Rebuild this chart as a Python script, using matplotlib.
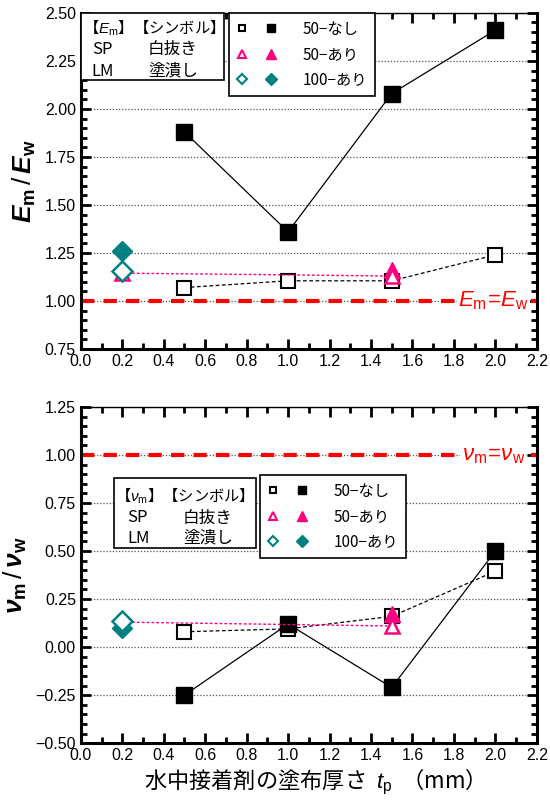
import matplotlib
matplotlib.use("Agg")
import matplotlib.pyplot as plt
from matplotlib.lines import Line2D
from matplotlib.patches import Rectangle
from matplotlib.legend_handler import HandlerTuple
from matplotlib.ticker import MultipleLocator

plt.rcParams['font.family'] = ['Liberation Sans', 'Noto Sans CJK JP', 'DejaVu Sans']
plt.rcParams['mathtext.fontset'] = 'custom'
plt.rcParams['mathtext.rm'] = 'Liberation Sans'
plt.rcParams['mathtext.it'] = 'Liberation Sans:italic'
plt.rcParams['mathtext.bf'] = 'Liberation Sans:bold'
plt.rcParams['mathtext.bfit'] = 'Liberation Sans:italic:bold'
plt.rcParams['axes.unicode_minus'] = True

PINK = '#ff0080'
TEAL = '#008080'
JP = ['Noto Sans CJK JP', 'DejaVu Sans']

# --- data: Em/Ew ---
e_sq_x = [0.5, 1.0, 1.5, 2.0]
e_sp50 = [1.07, 1.105, 1.105, 1.24]
e_lm50 = [1.88, 1.36, 2.08, 2.41]
e_tri_sp_x = [0.2, 1.5]
e_sp50a = [1.145, 1.13]
e_tri_lm_x = [1.5]
e_lm50a = [1.16]
e_dia_x = [0.2]
e_sp100a = [1.155]
e_lm100a = [1.26]

# --- data: nu_m/nu_w ---
n_sp50 = [0.08, 0.095, 0.16, 0.395]
n_lm50 = [-0.25, 0.12, -0.21, 0.50]
n_sp50a = [0.13, 0.11]
n_lm50a = [0.17]
n_sp100a = [0.135]
n_lm100a = [0.10]

xticks = [0.0, 0.2, 0.4, 0.6, 0.8, 1.0, 1.2, 1.4, 1.6, 1.8, 2.0, 2.2]
legend_labels = ['50−なし', '50−あり', '100−あり']

fig = plt.figure(figsize=(5.5, 8.06), dpi=100)
ax1 = fig.add_axes([0.147, 0.567, 0.829, 0.417])
ax2 = fig.add_axes([0.147, 0.078, 0.829, 0.417])


def style_axes(ax, ylim, yfmt):
    ax.set_xlim(0, 2.2)
    ax.set_ylim(*ylim)
    ax.set_xticks(xticks)
    ax.set_xticklabels([f'{v:.1f}' for v in xticks])
    ax.xaxis.set_minor_locator(MultipleLocator(0.1))
    ax.yaxis.set_major_locator(MultipleLocator(0.25))
    ax.yaxis.set_minor_locator(MultipleLocator(0.05))
    ax.yaxis.set_major_formatter(yfmt)
    ax.tick_params(which='both', direction='in', top=True, right=True,
                   width=2, labelsize=11.5)
    ax.tick_params(which='major', length=7)
    ax.tick_params(which='minor', length=4)
    for s in ['left', 'bottom', 'right']:
        ax.spines[s].set_linewidth(2.2)
    ax.spines['top'].set_linewidth(1)
    ax.grid(axis='y', which='major', color='#555555', linestyle=(0, (1, 1.5)), linewidth=0.9)
    ax.set_axisbelow(True)


def draw(ax, sp50, lm50, sp50a, lm50a, sp100a, lm100a):
    ax.plot(e_sq_x, sp50, color='black', lw=0.9, dashes=(3, 2), marker='s', ms=10,
            mfc='white', mec='black', mew=1.5, zorder=3)
    ax.plot(e_sq_x, lm50, color='black', lw=0.9, marker='s', ms=11,
            mfc='black', mec='black', zorder=3)
    ax.plot(e_tri_lm_x, lm50a, ls='none', marker='^', ms=11, mfc=PINK, mec=PINK, zorder=4)
    ax.plot(e_tri_sp_x, sp50a, color=PINK, lw=1.0, dashes=(2, 1.5), marker='^', ms=10,
            mfc='white', mec=PINK, mew=1.8, zorder=4)
    ax.plot(e_dia_x, lm100a, ls='none', marker='D', ms=10, mfc=TEAL, mec=TEAL, zorder=5)
    ax.plot(e_dia_x, sp100a, ls='none', marker='D', ms=10, mfc='white', mec=TEAL,
            mew=1.8, zorder=5)


style_axes(ax1, (0.75, 2.5), lambda v, p: f'{v:.2f}')
style_axes(ax2, (-0.5, 1.25), lambda v, p: f'{v:.2f}'.replace('-', '\u2212'))

draw(ax1, e_sp50, e_lm50, e_sp50a, e_lm50a, e_sp100a, e_lm100a)
draw(ax2, n_sp50, n_lm50, n_sp50a, n_lm50a, n_sp100a, n_lm100a)

for ax, lab in [(ax1, r'$E_\mathrm{m}\!=\!E_\mathrm{w}$'),
                (ax2, r'$\nu_\mathrm{m}\!=\!\nu_\mathrm{w}$')]:
    ax.axhline(1.0, color='red', lw=3, dashes=(3.2, 2.2), zorder=2)
    ax.text(1.99, 1.0, lab, color='red', fontsize=16, ha='center', va='center',
            zorder=6, bbox=dict(facecolor='white', edgecolor='none', pad=1))

ax1.set_ylabel(r'$\mathbfit{E}_\mathbf{m}\,/\,\mathbfit{E}_\mathbf{w}$', fontsize=19, labelpad=5)
ax2.set_ylabel(r'$\mathbfit{\nu}_\mathbf{m}\,/\,\mathbfit{\nu}_\mathbf{w}$', fontsize=19, labelpad=5)
ax2.set_xlabel(r'水中接着剤の塗布厚さ  $t_\mathrm{p}$  （mm）', fontsize=16, labelpad=3,
               family=JP)


def legends(ax, sym, box, x_br, x_sp, x_col, ys, x_right, y_top):
    # box: (x0, y0, x1, y1) in axes fraction
    ax.add_patch(Rectangle((box[0], box[1]), box[2] - box[0], box[3] - box[1],
                           transform=ax.transAxes, facecolor='white',
                           edgecolor='black', lw=1.2, zorder=9, clip_on=False))
    kw = dict(transform=ax.transAxes, fontsize=12, va='center', ha='left',
              zorder=10, family=JP)
    ax.text(x_br, ys[0], f'【{sym}】【シンボル】', **{**kw, 'fontsize': 11})
    ax.text(x_sp, ys[1], 'SP', **kw)
    ax.text(x_col, ys[1], '白抜き', **kw)
    ax.text(x_sp, ys[2], 'LM', **kw)
    ax.text(x_col, ys[2], '塗潰し', **kw)
    h = [
        (Line2D([], [], ls='none', marker='s', ms=5, mfc='white', mec='black', mew=1.5),
         Line2D([], [], ls='none', marker='s', ms=6, mfc='black', mec='black')),
        (Line2D([], [], ls='none', marker='^', ms=6, mfc='white', mec=PINK, mew=1.5),
         Line2D([], [], ls='none', marker='^', ms=7, mfc=PINK, mec=PINK)),
        (Line2D([], [], ls='none', marker='D', ms=5, mfc='white', mec=TEAL, mew=1.5),
         Line2D([], [], ls='none', marker='D', ms=6, mfc=TEAL, mec=TEAL)),
    ]
    leg = ax.legend(h, legend_labels,
                    handler_map={tuple: HandlerTuple(ndivide=None, pad=1.2)},
                    loc='upper left', bbox_to_anchor=(x_right, y_top),
                    frameon=True, fancybox=False, framealpha=1,
                    edgecolor='black', handlelength=2.6, handletextpad=1.7,
                    labelspacing=0.55, borderpad=0.5, borderaxespad=0,
                    prop={'family': JP, 'size': 11})
    leg.get_frame().set_linewidth(1.2)
    leg.set_zorder(10)


legends(ax1, r'$E_\mathrm{m}$', (0.0, 0.801, 0.314, 1.0), 0.004, 0.024, 0.147,
        (0.955, 0.890, 0.827), 0.325, 1.0)
legends(ax2, r'$\nu_\mathrm{m}$', (0.072, 0.580, 0.384, 0.789), 0.074, 0.101, 0.224,
        (0.735, 0.670, 0.610), 0.393, 0.798)

fig.savefig('out.png', dpi=100)
